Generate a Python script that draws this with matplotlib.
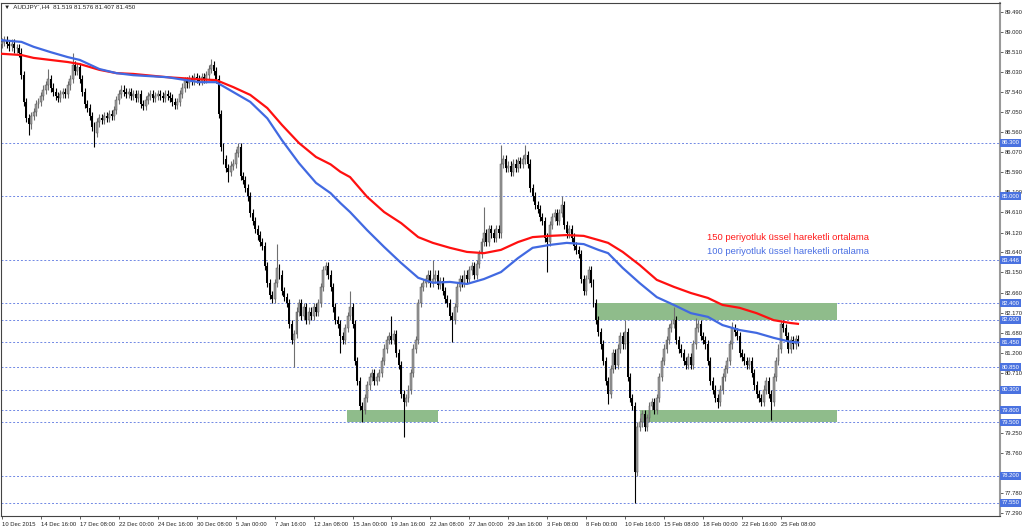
import matplotlib
matplotlib.use("Agg")
import matplotlib.pyplot as plt
import matplotlib.transforms as mtransforms
import numpy as np

# H4 closes, AUDJPY, 10 Dec 2015 -> 26 Feb 2016
closes = [
    88.75, 88.80, 88.70, 88.65, 88.72, 88.60, 88.62, 88.50,
    87.95, 87.30, 86.90, 86.75, 86.95,
    87.05, 87.25, 87.30, 87.45, 87.60, 87.70, 87.85,
    87.65, 87.55, 87.45, 87.40, 87.50, 87.55, 87.50, 87.70, 87.85,
    88.20, 88.05, 88.15, 87.85, 87.55,
    87.25, 87.15, 86.95, 86.70, 86.55, 86.80, 86.90,
    86.85, 86.95, 86.90, 87.00, 86.95, 87.10, 87.35, 87.50, 87.60, 87.55,
    87.50, 87.55, 87.45, 87.50, 87.40, 87.50, 87.25, 87.20,
    87.35, 87.45, 87.50, 87.40, 87.45, 87.50, 87.45, 87.40, 87.50, 87.45, 87.40,
    87.30, 87.22, 87.30, 87.50, 87.65, 87.80, 87.75,
    87.85, 87.80, 87.90, 87.85, 87.80, 87.90, 87.85, 87.95,
    88.10, 88.20, 88.05, 87.85, 87.00, 86.20, 85.90,
    85.70, 85.60, 85.75, 85.80, 86.05, 86.20, 85.50, 85.40, 85.20, 85.00,
    84.60, 84.40, 84.20, 84.05, 83.90, 83.80, 83.30, 82.90, 82.60, 82.50,
    82.90, 83.25, 83.10, 82.70, 82.55, 82.40, 81.90, 81.50, 81.65,
    82.20, 82.40, 82.10, 82.30, 82.00, 82.20, 82.10, 82.30, 82.20, 82.40,
    82.80, 83.20, 83.30, 83.10, 82.80, 82.30, 82.00, 81.90, 81.60, 81.50,
    81.80, 82.10, 82.30, 81.90, 81.00, 80.50, 79.90, 79.80, 80.10,
    80.40, 80.60, 80.70, 80.50, 80.60, 80.70, 81.00, 81.30, 81.50,
    81.60, 81.50, 81.65, 81.20, 80.90, 80.20, 80.00, 80.10, 80.30,
    80.70, 81.30, 81.50, 82.40, 82.80, 82.90, 83.00, 83.10, 82.90, 83.00, 83.10, 82.85,
    82.95, 82.70, 82.50, 82.40, 82.10, 82.00, 82.30, 82.80, 83.00, 82.90,
    83.10, 83.00, 83.20, 83.30, 83.10, 83.35, 83.60, 83.90, 84.10, 83.90,
    84.20, 84.10, 84.00, 84.20, 84.10, 85.80, 85.90, 85.70, 85.75, 85.60, 85.80, 85.70, 85.85,
    85.80, 85.90, 86.00, 85.80, 85.20, 85.00, 84.80, 84.70, 84.50, 84.40, 84.00, 83.90,
    84.30, 84.50, 84.60, 84.40, 84.60, 84.80, 84.30, 84.10, 84.20, 84.00, 83.80, 83.70, 83.60,
    83.00, 82.70, 83.00, 83.20, 82.90, 82.40, 82.00, 81.70, 81.40, 81.00, 80.50, 80.20,
    80.80, 81.20, 80.90, 81.30, 81.60, 81.40, 81.70, 80.60, 80.10, 79.90, 78.30, 79.40,
    79.50, 79.70, 79.40, 79.60, 79.90, 80.00, 79.80, 80.10, 80.60, 81.00, 81.30, 81.50,
    81.80, 81.90, 82.00, 81.50, 81.30, 81.20, 81.00, 80.90, 81.10, 80.90, 81.40, 81.80, 81.90,
    81.60, 81.50, 81.40, 81.00, 80.50, 80.30, 80.10, 80.00, 80.30, 80.60, 80.80, 81.00,
    81.40, 81.80, 81.70, 81.60, 81.20, 81.10, 81.00, 80.90, 81.00, 80.70, 80.40, 80.20, 80.10, 80.00,
    80.30, 80.50, 80.20, 80.00, 80.60, 81.00, 81.30, 81.90, 81.80, 81.60, 81.30, 81.50, 81.40, 81.52, 81.45,
]
first_open = 88.70

# notable wicks
high_bars = [19, 29, 86, 97, 113, 143, 160, 177, 198, 205, 215, 230, 256, 276, 285, 300, 320]
high_vals = [88.10, 88.50, 88.35, 86.30, 83.85, 82.70, 82.10, 83.45, 84.75, 86.25, 86.25, 85.00, 82.00, 82.30, 82.05, 81.95, 82.00]
low_bars = [11, 38, 93, 120, 139, 148, 165, 185, 224, 249, 260, 294, 316]
low_vals = [86.50, 86.20, 85.35, 80.85, 81.20, 79.50, 79.15, 81.45, 83.16, 79.95, 77.55, 79.85, 79.56]

# moving averages
ema_bars = [0, 8, 13, 20, 27, 32, 40, 47, 54, 68, 81, 88, 95, 102, 109, 115, 122, 129, 135, 139,
            143, 150, 157, 164, 171, 177, 184, 191, 198, 205, 212, 218, 225, 232, 239, 245, 249,
            255, 262, 269, 276, 283, 290, 296, 303, 310, 317, 324, 327]
ema100 = [88.80, 88.76, 88.64, 88.51, 88.39, 88.32, 88.10, 88.00, 87.95, 87.90, 87.78, 87.78, 87.54,
          87.30, 86.90, 86.37, 85.81, 85.33, 85.08, 84.84, 84.62, 84.18, 83.77, 83.38, 83.02, 82.90,
          82.92, 82.87, 82.99, 83.16, 83.50, 83.75, 83.82, 83.87, 83.84, 83.70, 83.62, 83.26, 82.89,
          82.55, 82.36, 82.16, 82.07, 81.87, 81.75, 81.68, 81.56, 81.46, 81.45]
ema150 = [88.47, 88.44, 88.37, 88.32, 88.27, 88.22, 88.08, 88.00, 87.98, 87.90, 87.85, 87.83, 87.66,
          87.47, 87.15, 86.74, 86.30, 85.96, 85.78, 85.60, 85.47, 84.99, 84.62, 84.35, 84.01, 83.87,
          83.75, 83.65, 83.62, 83.70, 83.89, 84.01, 84.04, 84.06, 84.04, 83.94, 83.87, 83.65, 83.33,
          82.97, 82.80, 82.65, 82.53, 82.36, 82.29, 82.16, 81.99, 81.92, 81.90]

date_labels = ["10 Dec 2015", "14 Dec 16:00", "17 Dec 08:00", "22 Dec 00:00", "24 Dec 16:00",
               "30 Dec 08:00", "5 Jan 00:00", "7 Jan 16:00", "12 Jan 08:00", "15 Jan 00:00",
               "19 Jan 16:00", "22 Jan 08:00", "27 Jan 00:00", "29 Jan 16:00", "3 Feb 08:00",
               "8 Feb 00:00", "10 Feb 16:00", "15 Feb 08:00", "18 Feb 00:00", "22 Feb 16:00",
               "25 Feb 08:00"]

price_ticks = [89.490, 89.000, 88.510, 88.030, 87.540, 87.050, 86.560, 86.070, 85.590, 85.100,
               84.610, 84.120, 83.640, 83.150, 82.660, 82.170, 81.680, 81.200, 80.710, 80.220,
               79.730, 79.250, 78.760, 78.270, 77.780, 77.290]
# these tick labels sit under the price-level tags in the original
hidden_ticks = [80.220, 79.730, 78.270]
levels = [86.300, 85.000, 83.446, 82.400, 82.000, 81.450, 80.850, 80.300, 79.800, 79.500, 78.200, 77.550]

zone_start = [141.7, 243.6, 262.0]
zone_end = [179.1, 343.0, 343.0]
zone_low = [79.50, 82.00, 79.50]
zone_high = [79.80, 82.40, 79.80]

# build OHLC
c = np.array(closes)
o = np.r_[first_open, c[:-1]]
hi = np.maximum(o, c) + 0.1
lo = np.minimum(o, c) - 0.1
hi[high_bars] = np.maximum(hi[high_bars], high_vals)
lo[low_bars] = np.minimum(lo[low_bars], low_vals)
x = np.arange(len(c))
up = c >= o

fig = plt.figure(figsize=(10.24, 5.29), dpi=100)
ax = fig.add_axes([1 / 1024, 13 / 529, 999 / 1024, 513 / 529])
ax.set_xlim(-0.4, 410)
ax.set_ylim(77.225, 89.706)

for lv in levels:
    ax.axhline(lv, color="#7088e4", lw=0.7, ls=(0, (2, 2)), zorder=1)

for s, e, l, h in zip(zone_start, zone_end, zone_low, zone_high):
    ax.fill_between([s, e], l, h, color="#8fbc8b", lw=0, zorder=2)

ax.vlines(x[up], lo[up], hi[up], color="#707070", lw=0.8, zorder=3)
ax.vlines(x[~up], lo[~up], hi[~up], color="black", lw=0.8, zorder=3)
body = np.maximum(np.abs(c - o), 0.02)
ax.bar(x[up], body[up], bottom=np.minimum(o, c)[up], width=0.8, color="#9c9c9c",
       edgecolor="#555555", lw=0.35, zorder=4)
ax.bar(x[~up], body[~up], bottom=np.minimum(o, c)[~up], width=0.8, color="black", lw=0, zorder=4)

ax.plot(ema_bars, ema150, color="#ff1010", lw=1.6, zorder=5)
ax.plot(ema_bars, ema100, color="#4169e1", lw=1.6, zorder=5)

fnt = ["Liberation Sans", "DejaVu Sans"]
ax.text(289.5, 84.01, "150 periyotluk üssel hareketli ortalama", color="#ff1a1a",
        fontsize=6.8, family=fnt, va="center", zorder=6)
ax.text(289.5, 83.65, "100 periyotluk üssel hareketli ortalama", color="#4a6fe3",
        fontsize=6.8, family=fnt, va="center", zorder=6)

# axes styling
for sp in ax.spines.values():
    sp.set_color("#444444")
    sp.set_linewidth(0.8)
ax.spines["right"].set_color("#999999")
ax.spines["right"].set_linewidth(1.5)

ax.yaxis.tick_right()
ax.set_yticks(price_ticks)
ax.set_yticklabels(["" if v in hidden_ticks else "%.3f" % v for v in price_ticks],
                   family=fnt, fontsize=4.2, color="#222222")
ax.tick_params(axis="y", length=2, width=0.5, pad=1.5, colors="#222222")

ax.set_xticks(np.arange(len(date_labels)) * 16)
ax.set_xticklabels(date_labels, family=fnt, fontsize=4.2, ha="left", color="#222222")
ax.tick_params(axis="x", length=2.5, width=0.5, pad=1.5, colors="#222222")

trans = mtransforms.blended_transform_factory(ax.transAxes, ax.transData)
for lv in levels:
    ax.text(1.0015, lv, "%.3f" % lv, transform=trans,
            fontsize=4.2, family=fnt, color="white", va="center", ha="left", clip_on=False,
            zorder=10, bbox=dict(boxstyle="square,pad=0.25", fc="#4a72e0", ec="none"))

fig.text(4 / 1024, 1 - 6.5 / 529, "▼  AUDJPY`,H4  81.519 81.576 81.407 81.450",
         fontsize=4.5, family=fnt, color="#222222", va="center")

fig.savefig("out.png", dpi=100)
